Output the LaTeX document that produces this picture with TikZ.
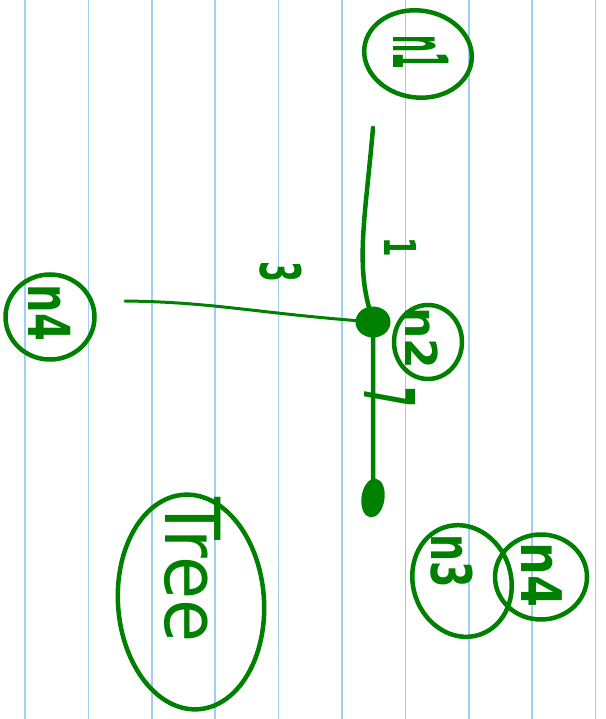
\documentclass[tikz,border=0pt]{standalone}
\usepackage{fontspec}
\setsansfont{DejaVu Sans}
\usetikzlibrary{shapes.geometric}
\definecolor{pen}{RGB}{0,128,0}
\definecolor{rulecol}{RGB}{160,205,250}
\begin{document}
\begin{tikzpicture}[x=1pt,y=-1pt,
  ring/.style={draw=pen, line width=4.5pt, ellipse, inner sep=0pt},
  blob/.style={draw=pen, fill=pen, line width=3pt, ellipse, inner sep=0pt},
  hw/.style={text=pen, rotate=-90, inner sep=0pt, font=\fontsize{20}{24}\selectfont\sffamily\bfseries},
  edge/.style={draw=pen, line width=4.5pt, line cap=round},
  thinedge/.style={draw=pen, line width=3pt, line cap=round},
  rl/.style={draw=rulecol, line width=1.6pt}]
\useasboundingbox (0,0) rectangle (605,719);
\fill[white] (0,0) rectangle (605,719);
\foreach \k in {0,...,9} \draw[rl] ({25+63.4*\k},0) -- ({25+63.4*\k},719);

% nodes (circles)
\node[ring, minimum width=108pt, minimum height=87pt, rotate=-8] (n1) at (418,54) {};
\node[ring, minimum width=68pt, minimum height=74pt] (n2) at (428,342) {};
\node[ring, minimum width=89pt, minimum height=85pt] (n4a) at (50,317) {};
\node[ring, minimum width=146pt, minimum height=215pt, rotate=4] (tree) at (191,602) {};
\node[ring, minimum width=98pt, minimum height=113pt, rotate=18] (n3) at (462,581) {};
\node[ring, minimum width=92pt, minimum height=85pt] (n4b) at (541,577) {};

\node[blob, minimum width=32pt, minimum height=28pt] (j) at (373,322) {};
\node[blob, minimum width=20pt, minimum height=36pt, rotate=-8] (b) at (373,498) {};

% texts
\node[hw] (t1) at (421,52) {\scalebox{1.2}[3.8]{n1}};
\node[hw] (t2) at (422,338) {\scalebox{2.2}[2.2]{n2}};
\node[hw] (t4a) at (50,313) {\scalebox{2.0}[2.9]{n4}};
\node[hw] (t3) at (452,561) {\scalebox{1.9}[2.8]{n3}};
\node[hw] (t4b) at (542,575) {\scalebox{2.3}[2.8]{n4}};
\node[text=pen, rotate=-90, inner sep=0pt, font=\fontsize{20}{24}\selectfont\sffamily] (tt) at (193,570) {\scalebox{3.5}[3.8]{Tree}};

% connectors
\coordinate (top) at (373,128);
\coordinate (lft) at (125,301);
\draw[edge] (top) .. controls (366,210) and (356,260) .. (j);
\draw[thinedge] (lft) .. controls (210,302) and (250,312) .. (j);
\draw[edge] (j) -- (b);

% weights
\node[hw] (w1) at (401,247) {\scalebox{1.4}[2.2]{1}};
\node[hw] (w3) at (281,272) {\scalebox{1.5}[2.8]{3}};
\node[hw] (w7) at (390,397) {\scalebox{1.4}[3.5]{7}};
\end{tikzpicture}
\end{document}
